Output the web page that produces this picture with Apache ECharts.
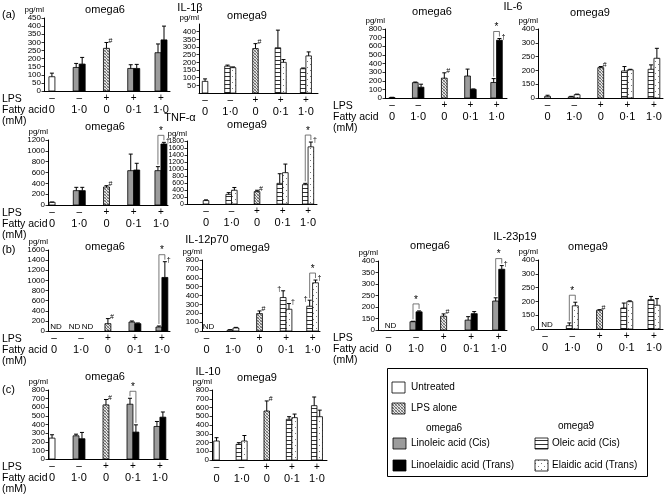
<!DOCTYPE html>
<html><head><meta charset="utf-8">
<script src="https://cdn.jsdelivr.net/npm/echarts@6/dist/echarts.min.js"></script>
<style>html,body{margin:0;padding:0;background:#fff}#c{width:665px;height:495px}</style>
</head><body><div id="c"></div>
<script>
// ---------- category labels ----------
const LPS = ['–','–','+','+','+'];
const FATTY = ['0','1·0','0','0·1','1·0'];
// ---------- data: [mean, top of error bar] per category (0, 1·0, LPS 0, 0·1, 1·0) ----------
// IL-1β
const IL1B_W6_CTRL  = [[88,110], null, [263,299], null, null];
const IL1B_W6_CIS   = [null, [145,170], null, [139,162], [236,290]];
const IL1B_W6_TRANS = [null, [166,207], null, [139,164], [315,400]];
const IL1B_W9_CTRL  = [[76,92], null, [290,322], null, null];
const IL1B_W9_CIS   = [null, [175,182], null, [295,410], [158,163]];
const IL1B_W9_TRANS = [null, [165,170], null, [200,218], [242,268]];
// IL-6
const IL6_W6_CTRL  = [[6,8], null, [230,292], null, null];
const IL6_W6_CIS   = [null, [178,185], null, [255,335], [180,225]];
const IL6_W6_TRANS = [null, [125,160], null, [100,105], [670,690]];
const IL6_W9_CTRL  = [[106,110], null, [210,214], null, null];
const IL6_W9_CIS   = [null, [104,106], null, [198,214], [204,220]];
const IL6_W9_TRANS = [null, [112,114], null, [202,204], [244,280]];
// TNF-α
const TNF_W6_CTRL  = [[50,55], null, [332,357], null, null];
const TNF_W6_CIS   = [null, [265,326], null, [634,940], [634,708]];
const TNF_W6_TRANS = [null, [265,326], null, [646,770], [1126,1157]];
const TNF_W9_CTRL  = [[98,118], null, [354,393], null, null];
const TNF_W9_CIS   = [null, [275,325], null, [590,865], [551,590]];
const TNF_W9_TRANS = [null, [393,472], null, [895,1141], [1633,1770]];
// IL-12p70
const IL12_W6_CTRL  = ['ND', null, [145,245], null, null];
const IL12_W6_CIS   = [null, 'ND', null, [178,198], [79,99]];
const IL12_W6_TRANS = [null, 'ND', null, [145,159], [1058,1369]];
const IL12_W9_CTRL  = ['ND', null, [196,226], null, null];
const IL12_W9_CIS   = [null, [11,15], null, [377,453], [279,347]];
const IL12_W9_TRANS = [null, [34,41], null, [245,309], [543,574]];
// IL-23p19
const IL23_W6_CTRL  = ['ND', null, [160,170], null, null];
const IL23_W6_CIS   = [null, [136,138], null, [143,158], [226,240]];
const IL23_W6_TRANS = [null, [179,183], null, [171,180], [364,380]];
const IL23_W9_CTRL  = ['ND', null, [168,170], null, null];
const IL23_W9_CIS   = [null, [112,122], null, [176,194], [206,218]];
const IL23_W9_TRANS = [null, [184,197], null, [199,202], [186,210]];
// IL-10
const IL10_W6_CTRL  = [[242,281], null, [627,690], null, null];
const IL10_W6_CIS   = [null, [269,288], null, [635,704], [377,435]];
const IL10_W6_TRANS = [null, [235,308], null, [312,396], [485,545]];
const IL10_W9_CTRL  = [[217,255], null, [560,675], null, null];
const IL10_W9_CIS   = [null, [179,198], null, [465,495], [621,720]];
const IL10_W9_TRANS = [null, [217,280], null, [484,525], [495,570]];
// ---------- tick labels of the printed (broken) axes ----------
const TICKS_6 = ['0','150','200','250','300','400'];
const TICKS_7 = ['0','150','200','250','300','350','400'];
// ---------- significance marks: [category, on, symbol, side] ----------
const MK_IL1B_W6 = [[3,'ctrl','#','R']];
const MK_IL1B_W9 = [[3,'ctrl','#','R']];
const MK_IL6_W6 = [[3,'ctrl','#','R'],[5,'pair','*'],[5,'trans','†','R']];
const MK_IL6_W9 = [[3,'ctrl','#','R']];
const MK_TNF_W6 = [[3,'ctrl','#','R'],[5,'pair','*'],[5,'trans','†','R']];
const MK_TNF_W9 = [[3,'ctrl','#','R'],[5,'pair','*'],[5,'trans','†','R']];
const MK_IL12_W6 = [[3,'ctrl','#','R'],[5,'pair','*'],[5,'trans','†','R']];
const MK_IL12_W9 = [[3,'ctrl','#','R'],[4,'cis','†','L'],[4,'trans','†','R'],[5,'cis','†','L'],[5,'pair','*'],[5,'trans','†','R']];
const MK_IL23_W6 = [[2,'pair','*'],[3,'ctrl','#','R'],[5,'pair','*'],[5,'trans','†','R']];
const MK_IL23_W9 = [[2,'pair','*'],[3,'ctrl','#','R']];
const MK_IL10_W6 = [[3,'ctrl','#','R'],[4,'pair','*']];
const MK_IL10_W9 = [[3,'ctrl','#','R']];

const FONT = '"Liberation Sans", Arial, Helvetica, sans-serif';
const BARW = 0.22;

function mkCanvas(w,h,draw){const c=document.createElement('canvas');c.width=w;c.height=h;const g=c.getContext('2d');draw(g);return c;}
const patLPS = mkCanvas(3,3,g=>{g.fillStyle='#e6e6e6';g.fillRect(0,0,3,3);g.fillStyle='#6e6e6e';g.fillRect(0,0,1,1);g.fillRect(1,1,1,1);g.fillRect(2,2,1,1);g.fillStyle='#a8a8a8';g.fillRect(2,0,1,1);g.fillRect(0,2,1,1);});
const patStripe = mkCanvas(4,4,g=>{g.fillStyle='#fff';g.fillRect(0,0,4,4);g.fillStyle='#333';g.fillRect(0,0,4,1);});
const patDots = mkCanvas(6,6,g=>{g.fillStyle='#fff';g.fillRect(0,0,6,6);g.fillStyle='#777';g.fillRect(1,1,1,1);g.fillRect(4,4,1,1);});
const P_LPS = {image:patLPS, repeat:'repeat'};
const P_STR = {image:patStripe, repeat:'repeat'};
const P_DOT = {image:patDots, repeat:'repeat'};
function fillFor(fam, kind){
  if (kind===0) return '#fff';
  if (kind===1) return P_LPS;
  if (kind===2) return fam==='w6' ? '#9c9c9c' : P_STR;
  return fam==='w6' ? '#000' : P_DOT;
}

const panels = [
  {fam:'w6', ctrl:IL1B_W6_CTRL, cis:IL1B_W6_CIS, trans:IL1B_W6_TRANS, marks:MK_IL1B_W6, yMin:0, yMax:450, yStep:50, box:[44,18,126,73,0.71,5.33]},
  {fam:'w9', ctrl:IL1B_W9_CTRL, cis:IL1B_W9_CIS, trans:IL1B_W9_TRANS, marks:MK_IL1B_W9, yMin:0, yMax:450, yStep:50, box:[199,24,119,69,0.76,5.48]},
  {fam:'w6', ctrl:IL6_W6_CTRL, cis:IL6_W6_CIS, trans:IL6_W6_TRANS, marks:MK_IL6_W6, yMin:0, yMax:800, yStep:100, box:[385,29,122,69,0.73,5.40]},
  {fam:'w9', ctrl:IL6_W9_CTRL, cis:IL6_W9_CIS, trans:IL6_W9_TRANS, marks:MK_IL6_W9, yMin:100, yMax:350, yStep:50, labels:TICKS_6, box:[538,29,125,69,0.64,5.34]},
  {fam:'w6', ctrl:TNF_W6_CTRL, cis:TNF_W6_CIS, trans:TNF_W6_TRANS, marks:MK_TNF_W6, yMin:0, yMax:1200, yStep:200, box:[48,140,120,65,0.85,5.26]},
  {fam:'w9', ctrl:TNF_W9_CTRL, cis:TNF_W9_CIS, trans:TNF_W9_TRANS, marks:MK_TNF_W9, yMin:0, yMax:1800, yStep:200, small:true, box:[187,141,130,63,0.255,5.35]},
  {fam:'w6', ctrl:IL12_W6_CTRL, cis:IL12_W6_CIS, trans:IL12_W6_TRANS, marks:MK_IL12_W6, yMin:0, yMax:1600, yStep:200, box:[48,250,122,81,0.78,5.30]},
  {fam:'w9', ctrl:IL12_W9_CTRL, cis:IL12_W9_CIS, trans:IL12_W9_TRANS, marks:MK_IL12_W9, yMin:0, yMax:800, yStep:100, box:[202,260,118,71,0.83,5.28]},
  {fam:'w6', ctrl:IL23_W6_CTRL, cis:IL23_W6_CIS, trans:IL23_W6_TRANS, marks:MK_IL23_W6, yMin:100, yMax:400, yStep:50, labels:TICKS_7, box:[378,261,129,69,0.62,5.30]},
  {fam:'w9', ctrl:IL23_W9_CTRL, cis:IL23_W9_CIS, trans:IL23_W9_TRANS, marks:MK_IL23_W9, yMin:100, yMax:350, yStep:50, labels:TICKS_6, box:[538,260,125,69,0.74,5.33]},
  {fam:'w6', ctrl:IL10_W6_CTRL, cis:IL10_W6_CIS, trans:IL10_W6_TRANS, marks:MK_IL10_W6, yMin:0, yMax:800, yStep:100, box:[48,390,120,69,0.85,5.30]},
  {fam:'w9', ctrl:IL10_W9_CTRL, cis:IL10_W9_CIS, trans:IL10_W9_TRANS, marks:MK_IL10_W9, yMin:0, yMax:800, yStep:100, box:[212,390,115,70,0.82,5.40]}
];

function barRender(p){
  return function(params, api){
    const x=api.value(0), v=api.value(1), e=api.value(2), kind=api.value(3);
    const w = api.size([1,0])[0]*BARW;
    const top = api.coord([x,v]), base = api.coord([x,p.yMin]);
    const x0 = kind===2 ? top[0]-w : (kind===3 ? top[0] : top[0]-w/2);
    const cx = x0 + w/2;
    const ey = api.coord([x,e])[1];
    const ch = [{type:'rect', shape:{x:x0, y:top[1], width:w, height:Math.max(0.5, base[1]-top[1])},
                 style:{fill:fillFor(p.fam,kind), stroke:'#000', lineWidth:0.8}}];
    if (e > v + 0.01) {
      ch.push({type:'line', shape:{x1:cx,y1:top[1],x2:cx,y2:ey}, style:{stroke:'#000', lineWidth:1}});
      ch.push({type:'line', shape:{x1:cx-2,y1:ey,x2:cx+2,y2:ey}, style:{stroke:'#000', lineWidth:1}});
    }
    return {type:'group', children:ch};
  };
}
function markRender(p, items){
  return function(params, api){
    const m = items[params.dataIndex];
    const w = api.size([1,0])[0]*BARW;
    const b = api.coord([m.x, p.yMin]);
    const center = on => on==='cis' ? b[0]-w/2 : (on==='trans' ? b[0]+w/2 : b[0]);
    const txt = (x,y,t,fs,al,va)=>({type:'text', x:x, y:y, style:{text:t, fontFamily:FONT, fontSize:fs, fill:'#000', align:al, verticalAlign:va, textAlign:al, textVerticalAlign:va}});
    if (m.type==='ND') {
      const nx = m.on==='cis' ? b[0]-6.5 : (m.on==='trans' ? b[0]+6.5 : b[0]+2);
      return txt(nx, b[1]-0.5, 'ND', 8, 'center', 'bottom');
    }
    if (m.type==='pair'){
      const a = api.coord([m.x, p.cis[m.x-1][1]])[1], c = api.coord([m.x, p.trans[m.x-1][1]])[1];
      const top = Math.min(a,c) - 7, xl = center('cis'), xr = center('trans');
      return {type:'group', children:[
        {type:'polyline', shape:{points:[[xl,a-2],[xl,top],[xr,top],[xr,c-2]]}, style:{stroke:'#555', lineWidth:0.8, fill:null}},
        txt((xl+xr)/2, top+1, '*', 10, 'center', 'bottom')]};
    }
    const d = p[m.on][m.x-1];
    const ey = api.coord([m.x, d[1]])[1];
    const cx = center(m.on);
    if (m.side==='L') return txt(cx-2, ey+2, m.sym, 7, 'right', 'bottom');
    return txt(cx+2, ey+2, m.sym, 7, 'left', 'bottom');
  };
}

const grids=[], xAxes=[], yAxes=[], series=[];
panels.forEach((p,i)=>{
  const [l,t,w,h,xmin,xmax] = p.box;
  grids.push({left:l, top:t, width:w, height:h, containLabel:false, outerBoundsMode:'none'});
  xAxes.push({gridIndex:i, type:'value', min:xmin, max:xmax,
    axisLine:{show:true, onZero:false, lineStyle:{color:'#000', width:1}}, axisTick:{show:false}, splitLine:{show:false},
    axisLabel:{show:true, customValues:[1,2,3,4,5], margin:2, color:'#000', fontFamily:FONT,
      formatter:v=>{const k=Math.round(v)-1; return '{a|'+LPS[k]+'}\n{b|'+FATTY[k]+'}';},
      rich:{a:{fontSize:10, lineHeight:11, color:'#000', fontFamily:FONT}, b:{fontSize:11, lineHeight:11, color:'#000', fontFamily:FONT}}}});
  yAxes.push({gridIndex:i, type:'value', min:p.yMin, max:p.yMax, interval:p.yStep,
    axisLine:{show:true, onZero:false, lineStyle:{color:'#000', width:1}},
    axisTick:{show:true, length:2.5, lineStyle:{color:'#000', width:0.8}}, splitLine:{show:false},
    axisLabel:{show:true, fontSize:p.small?7:8, margin:3, color:'#000', fontFamily:FONT,
      formatter:v=>p.labels ? p.labels[Math.round((v-p.yMin)/p.yStep)] : String(v)},
    name:'pg/ml', nameLocation:'end', nameGap:2,
    nameTextStyle:{fontSize:8, color:'#000', align:'right', fontFamily:FONT}});
  const bars=[];
  const items=[];
  [['ctrl',p.ctrl],['cis',p.cis],['trans',p.trans]].forEach(([key,arr])=>{
    arr.forEach((d,j)=>{
      if (d==null) return;
      const x=j+1;
      if (d==='ND') { items.push({type:'ND', x:x, on:key}); return; }
      const kind = key==='ctrl' ? (j===0?0:1) : (key==='cis'?2:3);
      bars.push([x, d[0], d[1], kind]);
    });
  });
  p.marks.forEach(m=>{
    if (m[1]==='pair') items.push({type:'pair', x:m[0]});
    else items.push({type:'sym', x:m[0], on:m[1], sym:m[2], side:m[3]});
  });
  series.push({type:'custom', xAxisIndex:i, yAxisIndex:i, renderItem:barRender(p), data:bars, encode:{x:0,y:1}, silent:true, animation:false, z:2});
  series.push({type:'custom', xAxisIndex:i, yAxisIndex:i, renderItem:markRender(p, items), data:items.map(m=>[m.x, p.yMin]), encode:{x:0,y:1}, silent:true, animation:false, z:3});
});

function T(x,y,text,fs,align){return {type:'text', x:x, y:y, silent:true, style:{text:text, fontFamily:FONT, fontSize:fs||11, fill:'#000', align:align||'center', verticalAlign:'middle', textAlign:align||'center', textVerticalAlign:'middle'}};}
function rowLabels(x, base){return [T(x, base+8, 'LPS', 10.5, 'left'), T(x, base+19, 'Fatty acid', 10.5, 'left'), T(x, base+30, '(mM)', 10.5, 'left')];}
function SW(x,y,fill){return {type:'rect', silent:true, shape:{x:x, y:y, width:13, height:11}, style:{fill:fill, stroke:'#000', lineWidth:0.8}};}

const gfx = [
  T(2,15,'(a)',11,'left'), T(190,8,'IL-1β',11), T(105,10,'omega6',11), T(247,16,'omega9',11),
  T(513,7,'IL-6',11), T(432,12,'omega6',11), T(590,13,'omega9',11),
  T(180,118,'TNF-α',11), T(105,127,'omega6',11), T(247,125,'omega9',11),
  T(2,250,'(b)',11,'left'), T(207,240,'IL-12p70',11), T(105,247,'omega6',11), T(250,248,'omega9',11),
  T(515,237,'IL-23p19',11), T(430,246,'omega6',11), T(588,247,'omega9',11),
  T(2,390,'(c)',11,'left'), T(208,372,'IL-10',11), T(105,377,'omega6',11), T(257,378,'omega9',11),
  ...rowLabels(2,91), ...rowLabels(333,98), ...rowLabels(2,205), ...rowLabels(2,331), ...rowLabels(333,330), ...rowLabels(2,459),
  {type:'rect', silent:true, shape:{x:387.5, y:368.5, width:260, height:108}, style:{fill:'#fff', stroke:'#000', lineWidth:1}, z:-1},
  SW(392,382,'#fff'), T(411,387.5,'Untreated',10,'left'),
  SW(392,403,P_LPS), T(411,408.5,'LPS alone',10,'left'),
  T(444,428,'omega6',10), T(576,426,'omega9',10),
  SW(393,438,'#9c9c9c'), T(411,443.5,'Linoleic acid (Cis)',10,'left'),
  SW(535,438,P_STR), T(552,443.5,'Oleic acid (Cis)',10,'left'),
  SW(393,460,'#000'), T(411,465.5,'Linoelaidic acid (Trans)',10,'left'),
  SW(535,460,P_DOT), T(552,465.5,'Elaidic acid (Trans)',10,'left')
];

const chart = echarts.init(document.getElementById('c'), null, {renderer:'canvas'});
chart.setOption({
  animation:false, backgroundColor:'#fff',
  textStyle:{fontFamily:FONT, color:'#000'},
  grid:grids, xAxis:xAxes, yAxis:yAxes, series:series,
  graphic:{elements:gfx}
});
</script></body></html>
